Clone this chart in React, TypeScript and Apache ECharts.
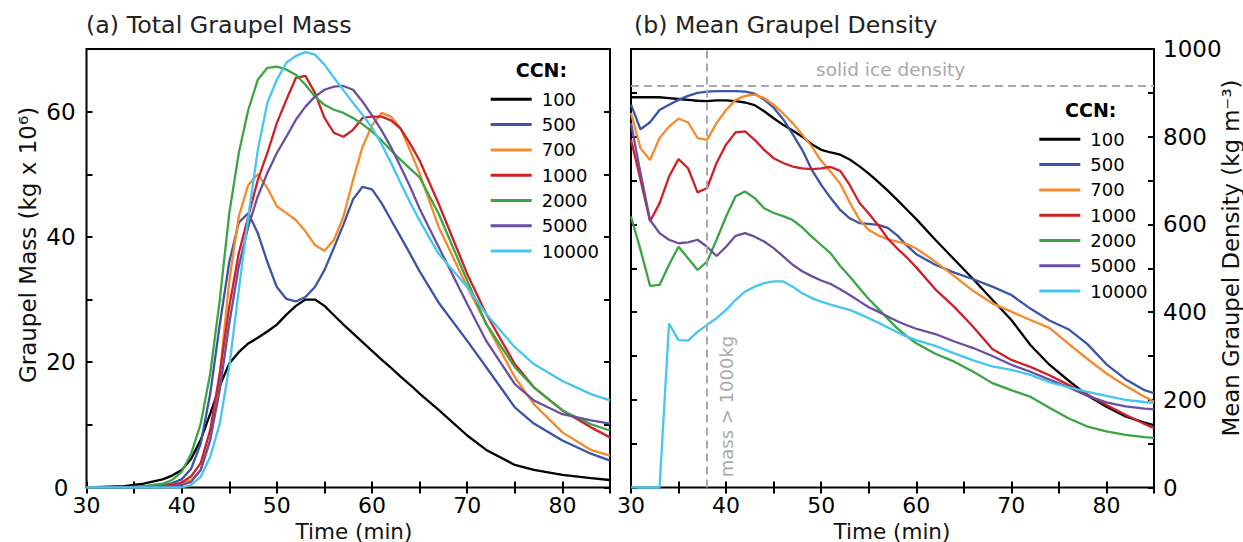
import React, { useEffect, useRef } from "react";
import * as echarts from "echarts";

// ---------- data ----------
const ccnNames = ["100", "500", "700", "1000", "2000", "5000", "10000"];
const ccnColors = ["#000000", "#3b54a5", "#f58a2c", "#cf2027", "#3ba444", "#6a4e9f", "#45c5f0"];

// (a) Total graupel mass (kg x 10^6)
const massTimes = [30, 34, 36, 38, 39, 40, 41, 42, 43, 44, 45, 46, 47, 48, 49, 50, 51, 52, 53, 54, 55, 56, 57, 58, 59, 60, 61, 62, 63, 64, 65, 67, 70, 72, 75, 77, 80, 83, 85];
const mass100 = [0, 0.2, 0.6, 1.3, 1.9, 2.8, 4.6, 7.6, 11.8, 16.2, 19.8, 21.6, 23.0, 23.9, 24.9, 26.0, 27.6, 29.0, 30.0, 30.0, 29.0, 27.5, 26.0, 24.6, 23.2, 21.8, 20.4, 19.1, 17.7, 16.4, 15.0, 12.4, 8.3, 6.0, 3.6, 2.8, 2.0, 1.5, 1.2];
const mass500 = [0, 0, 0.1, 0.3, 0.7, 1.3, 3.0, 7.0, 15.0, 26.0, 36.0, 42.3, 43.8, 40.6, 36.0, 32.0, 30.1, 29.7, 30.4, 32.0, 34.7, 38.3, 42.0, 46.0, 48.0, 47.6, 45.4, 42.7, 40.0, 37.3, 34.5, 29.5, 23.4, 19.2, 12.8, 10.2, 7.5, 5.4, 4.3];
const mass700 = [0, 0, 0.1, 0.2, 0.4, 0.6, 1.2, 2.8, 7.6, 18.0, 33.0, 43.3, 48.3, 50.0, 47.8, 44.9, 43.8, 42.7, 40.9, 38.7, 37.8, 39.5, 43.3, 49.1, 54.4, 57.8, 59.8, 59.2, 57.3, 53.8, 50.1, 41.6, 32.0, 26.1, 17.6, 13.3, 8.8, 6.0, 5.1];
const mass1000 = [0, 0, 0.1, 0.2, 0.4, 0.8, 1.8, 3.9, 9.2, 18.2, 28.9, 37.4, 43.3, 49.1, 53.4, 58.2, 61.9, 65.4, 65.7, 63.0, 59.0, 56.6, 56.0, 57.1, 59.0, 59.2, 59.2, 58.6, 57.3, 54.9, 52.2, 45.3, 34.1, 27.7, 19.7, 16.0, 12.3, 9.6, 8.0];
const mass2000 = [0, 0, 0.2, 0.6, 1.2, 2.5, 5.4, 10.2, 18.2, 29.9, 43.8, 53.4, 60.3, 65.1, 67.0, 67.2, 66.7, 65.9, 64.3, 62.4, 61.1, 60.3, 59.8, 59.0, 58.0, 56.8, 55.4, 53.8, 52.3, 50.9, 49.5, 43.7, 33.0, 26.1, 19.2, 16.0, 12.3, 10.1, 9.1];
const mass5000 = [0, 0, 0, 0.1, 0.2, 0.4, 0.9, 2.8, 7.6, 15.6, 26.2, 35.3, 41.7, 46.5, 50.2, 53.4, 56.0, 58.7, 60.8, 62.4, 63.5, 64.0, 64.1, 63.5, 61.6, 59.4, 57.0, 54.3, 51.2, 48.0, 44.5, 38.4, 29.3, 23.4, 16.5, 13.9, 11.7, 10.7, 10.2];
const mass10000 = [0, 0, 0, 0, 0, 0, 0.4, 1.7, 4.9, 10.2, 19.3, 31.5, 43.3, 53.9, 61.4, 65.1, 67.8, 68.9, 69.5, 69.1, 67.5, 65.4, 63.4, 61.4, 59.5, 57.4, 54.8, 51.8, 48.6, 45.5, 42.6, 37.3, 32.0, 27.7, 22.4, 19.7, 17.0, 14.9, 13.9];

// (b) Mean graupel density (kg m^-3)
const densTimes = [30, 31, 32, 33, 34, 35, 36, 37, 38, 39, 40, 41, 42, 43, 44, 45, 46, 47, 48, 49, 50, 51, 52, 53, 54, 55, 56, 57, 58, 59, 60, 62, 64, 66, 68, 70, 72, 74, 76, 78, 80, 82, 84, 85];
const dens100 = [890, 890, 890, 890, 888, 886, 884, 882, 881, 883, 883, 881, 878, 872, 858, 842, 827, 814, 800, 783, 770, 764, 759, 748, 733, 716, 697, 677, 656, 634, 612, 565, 520, 475, 428, 382, 325, 280, 244, 210, 184, 162, 148, 142];
const dens500 = [873, 817, 833, 861, 873, 884, 893, 900, 903, 904, 904, 904, 903, 898, 885, 866, 840, 806, 770, 725, 690, 660, 633, 614, 603, 601, 599, 592, 575, 552, 532, 508, 490, 475, 458, 439, 408, 381, 361, 327, 281, 247, 222, 215];
const dens700 = [854, 774, 747, 797, 823, 841, 833, 797, 793, 831, 861, 884, 893, 896, 888, 873, 853, 831, 805, 778, 745, 720, 693, 650, 612, 587, 575, 566, 561, 555, 545, 515, 482, 448, 420, 401, 382, 364, 328, 293, 260, 232, 207, 196];
const dens1000 = [793, 702, 607, 648, 709, 749, 728, 673, 683, 740, 782, 810, 812, 793, 770, 751, 740, 732, 728, 726, 728, 731, 722, 690, 650, 625, 598, 568, 545, 525, 502, 452, 412, 366, 316, 291, 275, 256, 234, 212, 188, 166, 145, 135];
const dens2000 = [618, 542, 460, 462, 508, 549, 523, 496, 515, 565, 618, 664, 675, 660, 637, 626, 619, 610, 593, 572, 553, 534, 505, 481, 455, 430, 408, 385, 363, 345, 329, 305, 287, 264, 238, 222, 207, 182, 158, 139, 128, 120, 115, 113];
const dens5000 = [831, 717, 610, 580, 565, 557, 559, 565, 549, 528, 549, 574, 580, 572, 561, 546, 527, 508, 493, 482, 472, 464, 452, 439, 425, 411, 401, 390, 379, 370, 362, 350, 333, 318, 300, 280, 264, 246, 229, 209, 194, 185, 180, 178];
const dens10000 = [0, 0, 0, 0, 374, 336, 335, 355, 371, 386, 405, 428, 447, 458, 466, 470, 470, 458, 443, 432, 424, 417, 411, 405, 396, 386, 376, 365, 354, 344, 336, 323, 306, 290, 276, 268, 257, 240, 229, 218, 209, 200, 195, 193];

const massSeries = [mass100, mass500, mass700, mass1000, mass2000, mass5000, mass10000];
const densSeries = [dens100, dens500, dens700, dens1000, dens2000, dens5000, dens10000];

const iceDensity = 917; // solid ice density line
const massThresholdTime = 38; // mass > 1000 kg

// axes
const timeMin = 30;
const timeMax = 85;
const timeTick = 5;
const massMax = 70;
const massTick = 10;
const densMax = 1000;
const densTick = 100;

// ---------- chart ----------
const FONT = "DejaVu Sans";
const GRAY = "#a7a9ac";

function zip(ts: number[], vs: number[]) {
  return ts.map((t, i) => [t, vs[i]]);
}

export default function App() {
  const ref = useRef<HTMLDivElement>(null);

  useEffect(() => {
    if (!ref.current) return;
    const chart = echarts.init(ref.current, undefined, { renderer: "svg" });

    const tickStyle = { show: true, inside: true, length: 6, lineStyle: { color: "#000", width: 2 } };
    const xBase = (gridIndex: number, position: string, showLabel: boolean) => ({
      type: "value",
      gridIndex,
      position,
      min: timeMin,
      max: timeMax,
      interval: timeTick,
      axisLine: { show: false },
      axisTick: tickStyle,
      splitLine: { show: false },
      axisLabel: {
        show: showLabel,
        margin: 9,
        lineHeight: 18,
        color: "#000",
        fontSize: 22,
        fontFamily: FONT,
        formatter: (v: number) => (v % 10 === 0 && v < timeMax ? String(v) : ""),
      },
    });

    const lineSeries = (names: string[], data: number[][], times: number[], axisIdx: number) =>
      names.map((name, i) => ({
        type: "line",
        name,
        xAxisIndex: axisIdx,
        yAxisIndex: axisIdx,
        data: zip(times, data[i]),
        showSymbol: false,
        symbol: "none",
        z: 3,
        color: ccnColors[i],
        lineStyle: { color: ccnColors[i], width: 2.3 },
        itemStyle: { color: ccnColors[i] },
      }));

    const legendBase = (left: number, top: number) => ({
      orient: "vertical",
      left,
      top,
      padding: 0,
      data: ccnNames,
      icon: "rect",
      itemWidth: 41,
      itemHeight: 3,
      itemGap: 5.3,
      selectedMode: false,
      textStyle: { fontSize: 18, lineHeight: 20, fontFamily: FONT, color: "#000", padding: [0, 0, 0, 5] },
    });

    const option: any = {
      animation: false,
      backgroundColor: "#fff",
      grid: [
        { left: 86.5, right: 1243 - 610, top: 49, bottom: 542 - 487.5, show: true, borderColor: "#000", borderWidth: 2 },
        { left: 631, right: 1243 - 1154, top: 49, bottom: 542 - 487.5, show: true, borderColor: "#000", borderWidth: 2 },
      ],
      xAxis: [xBase(0, "bottom", true), xBase(0, "top", false), xBase(1, "bottom", true), xBase(1, "top", false)],
      yAxis: [
        {
          type: "value", gridIndex: 0, position: "left", min: 0, max: massMax, interval: massTick,
          axisLine: { show: false }, axisTick: tickStyle, splitLine: { show: false },
          axisLabel: { margin: 25.5, align: "center", color: "#000", fontSize: 23, fontFamily: FONT,
            formatter: (v: number) => (v % 20 === 0 ? String(v) : "") },
        },
        {
          type: "value", gridIndex: 0, position: "right", min: 0, max: massMax, interval: massTick,
          axisLine: { show: false }, axisTick: tickStyle, splitLine: { show: false }, axisLabel: { show: false },
        },
        {
          type: "value", gridIndex: 1, position: "right", min: 0, max: densMax, interval: densTick,
          axisLine: { show: false }, axisTick: tickStyle, splitLine: { show: false },
          axisLabel: { margin: 9, color: "#000", fontSize: 23, fontFamily: FONT,
            formatter: (v: number) => (v % 200 === 0 ? String(v) : "") },
        },
        {
          type: "value", gridIndex: 1, position: "left", min: 0, max: densMax, interval: densTick,
          axisLine: { show: false }, axisTick: tickStyle, splitLine: { show: false }, axisLabel: { show: false },
        },
      ],
      legend: [legendBase(490.7, 89.3), legendBase(1039.3, 129.3)],
      series: [
        ...lineSeries(ccnNames, massSeries, massTimes, 0),
        ...lineSeries(ccnNames, densSeries, densTimes, 2),
        {
          type: "line",
          name: "reference",
          xAxisIndex: 2,
          yAxisIndex: 2,
          data: [[massThresholdTime, iceDensity]],
          showSymbol: false,
          symbol: "none",
          lineStyle: { width: 0 },
          z: 1,
          silent: true,
          markLine: {
            silent: true,
            symbol: ["none", "none"],
            label: { show: false },
            lineStyle: { color: GRAY, width: 2, type: [8, 5] },
            data: [{ xAxis: massThresholdTime }, { yAxis: iceDensity }],
          },
        },
      ],
      graphic: [
        { type: "text", x: 86, y: 25, style: { text: "(a) Total Graupel Mass", fontSize: 23.8, fontFamily: FONT, fill: "#222", align: "left", verticalAlign: "middle" } },
        { type: "text", x: 634, y: 25, style: { text: "(b) Mean Graupel Density", fontSize: 23.6, fontFamily: FONT, fill: "#222", align: "left", verticalAlign: "middle" } },
        { type: "text", x: 354, y: 531, style: { text: "Time (min)", fontSize: 21.5, lineHeight: 18, fontFamily: FONT, fill: "#111", align: "center", verticalAlign: "middle" } },
        { type: "text", x: 892, y: 531, style: { text: "Time (min)", fontSize: 21.5, lineHeight: 18, fontFamily: FONT, fill: "#111", align: "center", verticalAlign: "middle" } },
        { type: "text", x: 28, y: 245, rotation: Math.PI / 2, style: { text: "Graupel Mass (kg x 10\u2076)", fontSize: 23, fontFamily: FONT, fill: "#111", align: "center", verticalAlign: "middle" } },
        { type: "text", x: 1231, y: 258, rotation: Math.PI / 2, style: { text: "Mean Graupel Density (kg m\u207B\u00B3)", fontSize: 22.8, lineHeight: 22, fontFamily: FONT, fill: "#111", align: "center", verticalAlign: "middle" } },
        { type: "text", x: 515.7, y: 70, style: { text: "CCN:", fontSize: 19, fontWeight: "bold", fontFamily: FONT, fill: "#000", align: "left", verticalAlign: "middle" } },
        { type: "text", x: 1065, y: 110, style: { text: "CCN:", fontSize: 19, fontWeight: "bold", fontFamily: FONT, fill: "#000", align: "left", verticalAlign: "middle" } },
        { type: "text", x: 816, y: 69, style: { text: "solid ice density", fontSize: 18.5, fontFamily: FONT, fill: GRAY, align: "left", verticalAlign: "middle" } },
        { type: "text", x: 726, y: 406.5, rotation: Math.PI / 2, style: { text: "mass > 1000kg", fontSize: 18, fontFamily: FONT, fill: GRAY, align: "center", verticalAlign: "middle" } },
      ],
    };

    chart.setOption(option);
    return () => chart.dispose();
  }, []);

  return <div ref={ref} style={{ position: "absolute", left: 0, top: 0, width: 1243, height: 542 }} />;
}
